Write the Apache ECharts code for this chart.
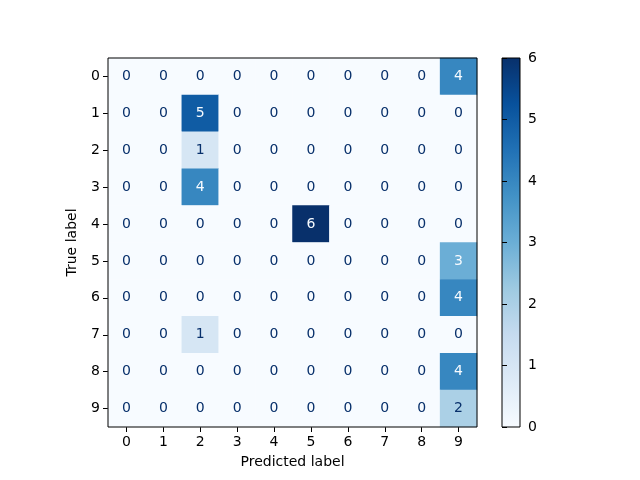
<!DOCTYPE html>
<html>
<head>
<meta charset="utf-8">
<script src="https://cdn.jsdelivr.net/npm/echarts@6/dist/echarts.min.js"></script>
<style>
  html, body { margin: 0; padding: 0; background: #fff; }
  #chart { width: 640px; height: 480px; }
</style>
</head>
<body>
<div id="chart"></div>
<script>
// 类别（预测 / 真实）
var predictedLabels = ['0', '1', '2', '3', '4', '5', '6', '7', '8', '9'];
var trueLabels = ['0', '1', '2', '3', '4', '5', '6', '7', '8', '9'];
// 混淆矩阵，每行是一个真实类别
var matrix = [
    [0, 0, 0, 0, 0, 0, 0, 0, 0, 4],
    [0, 0, 5, 0, 0, 0, 0, 0, 0, 0],
    [0, 0, 1, 0, 0, 0, 0, 0, 0, 0],
    [0, 0, 4, 0, 0, 0, 0, 0, 0, 0],
    [0, 0, 0, 0, 0, 6, 0, 0, 0, 0],
    [0, 0, 0, 0, 0, 0, 0, 0, 0, 3],
    [0, 0, 0, 0, 0, 0, 0, 0, 0, 4],
    [0, 0, 1, 0, 0, 0, 0, 0, 0, 0],
    [0, 0, 0, 0, 0, 0, 0, 0, 0, 4],
    [0, 0, 0, 0, 0, 0, 0, 0, 0, 2]
];
var colorbarTicks = [0, 6];

(function () {
    var myChart = echarts.init(document.getElementById('chart'));
    var blues = ['#f7fbff', '#deebf7', '#c6dbef', '#9ecae1', '#6baed6',
                 '#4292c6', '#2171b5', '#08519c', '#08306b'];
    var vmin = colorbarTicks[0], vmax = colorbarTicks[1];
    var thresh = (vmin + vmax) / 2;
    var font = 'DejaVu Sans';
    var fs = 14;

    var data = [];
    for (var i = 0; i < matrix.length; i++) {
        for (var j = 0; j < matrix[i].length; j++) {
            var v = matrix[i][j];
            data.push({
                value: [j, i, v],
                label: { color: v >= thresh ? blues[0] : blues[8] }
            });
        }
    }

    // 色条：从下（白）到上（深蓝）的渐变
    var stops = blues.map(function (c, k) {
        return { offset: 1 - k / (blues.length - 1), color: c };
    }).reverse();
    var barGradient = new echarts.graphic.LinearGradient(0, 0, 0, 1, stops);

    var axisText = { color: '#000', fontSize: fs, fontFamily: font };

    var option = {
        animation: false,
        backgroundColor: '#fff',
        grid: [
            { left: 108, top: 58, width: 369, height: 369, show: true,
              borderColor: '#000', borderWidth: 1, backgroundColor: 'transparent', z: 5 },
            { left: 502, top: 58, width: 18, height: 369, show: true,
              borderColor: '#000', borderWidth: 1, backgroundColor: barGradient }
        ],
        xAxis: [
            {
                type: 'category', gridIndex: 0, data: predictedLabels,
                name: 'Predicted label', nameLocation: 'middle', nameGap: 28,
                nameTextStyle: axisText,
                axisLine: { show: false },
                axisTick: { show: true, alignWithLabel: true, length: 5, lineStyle: { color: '#000' } },
                axisLabel: { color: '#000', fontSize: fs, fontFamily: font, margin: 8 },
                splitLine: { show: false }
            },
            { type: 'value', gridIndex: 1, show: false, min: 0, max: 1 }
        ],
        yAxis: [
            {
                type: 'category', gridIndex: 0, data: trueLabels, inverse: true,
                name: 'True label', nameLocation: 'middle', nameGap: 29, nameRotate: 90,
                nameTextStyle: axisText,
                axisLine: { show: false },
                axisTick: { show: true, alignWithLabel: true, length: 5, lineStyle: { color: '#000' } },
                axisLabel: { color: '#000', fontSize: fs, fontFamily: font, margin: 8 },
                splitLine: { show: false }
            },
            {
                type: 'value', gridIndex: 1, position: 'right', min: vmin, max: vmax, interval: 1,
                axisLine: { show: false },
                axisTick: { show: true, length: 5, lineStyle: { color: '#000' } },
                axisLabel: { color: '#000', fontSize: fs, fontFamily: font, margin: 8 },
                splitLine: { show: false }
            }
        ],
        visualMap: {
            type: 'continuous',
            show: false,
            min: vmin, max: vmax,
            seriesIndex: 0,
            inRange: { color: blues }
        },
        series: [
            {
                type: 'heatmap',
                xAxisIndex: 0, yAxisIndex: 0,
                data: data,
                label: {
                    show: true, fontSize: fs, fontFamily: font,
                    formatter: function (p) { return p.value[2]; }
                },
                itemStyle: { borderWidth: 0 },
                emphasis: { disabled: true }
            }
        ]
    };

    myChart.setOption(option);
    window.addEventListener('resize', function () {
        myChart.resize();
    });
})();
</script>
</body>
</html>
